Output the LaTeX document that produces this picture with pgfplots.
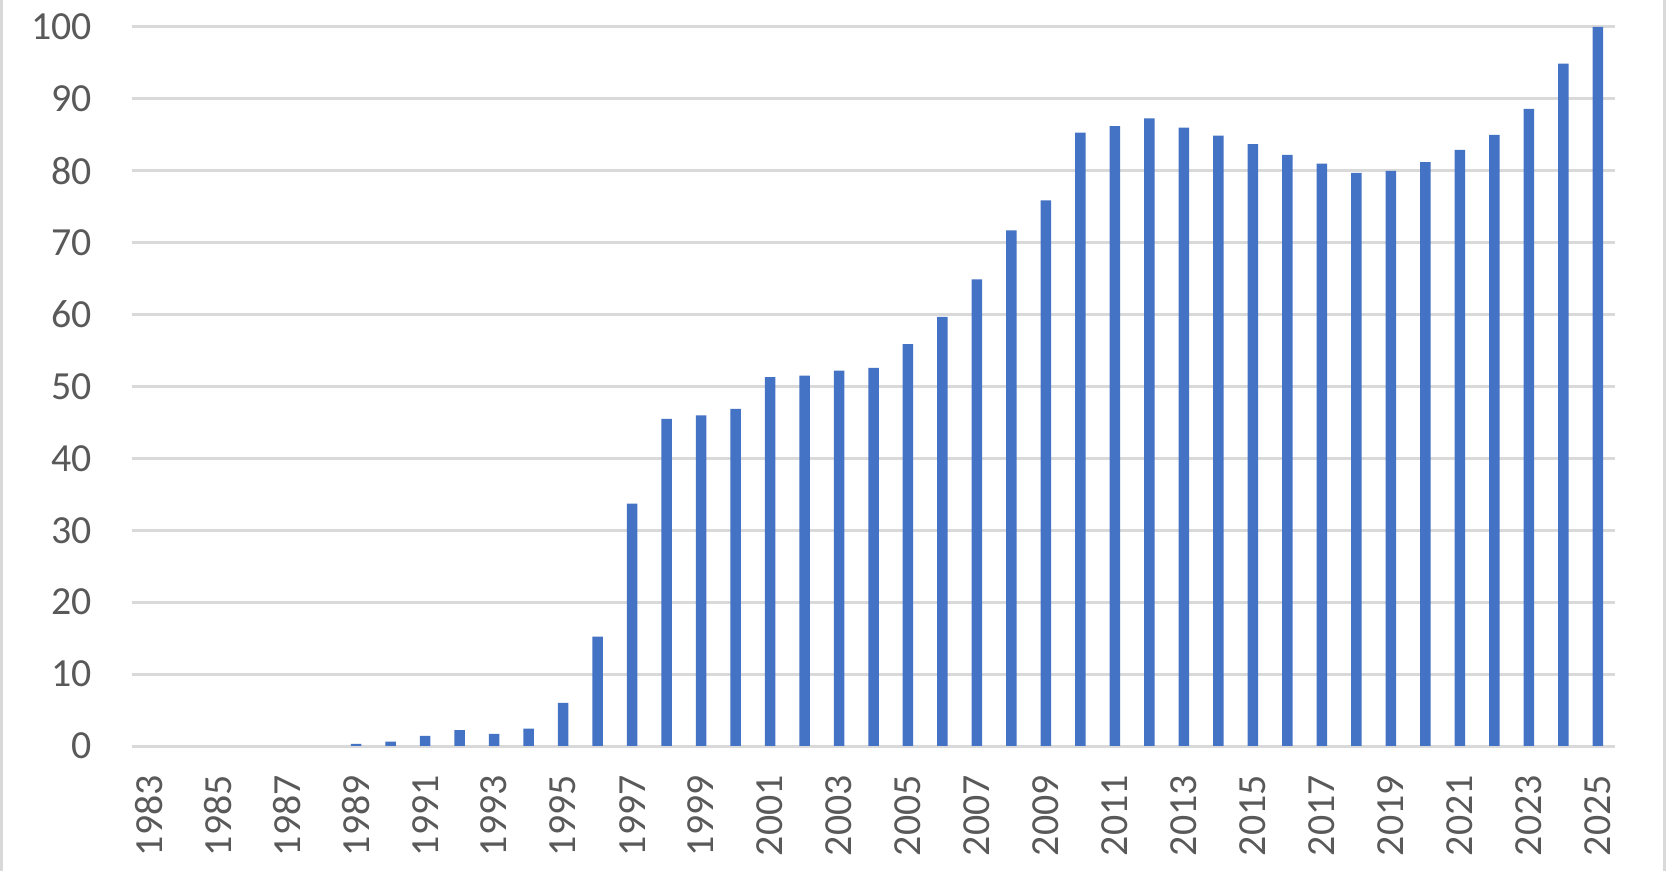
\documentclass[border=0pt]{standalone}
\usepackage{pgfplots}
\pgfplotsset{compat=1.18}
\usepackage{fontspec}
\setmainfont{Carlito}
\definecolor{barblue}{HTML}{4472C4}
\definecolor{gridgray}{HTML}{D9D9D9}
\definecolor{labgray}{HTML}{595959}
\begin{document}
\begin{tikzpicture}
\useasboundingbox (-66bp,-62.5bp) rectangle (767bp,373bp);
\fill[white] (-66bp,-62.5bp) rectangle (767bp,373bp);
\draw[gridgray, line width=1.5bp] (-65.25bp,-62.5bp) -- (-65.25bp,373bp);
\draw[gridgray, line width=1.5bp] (766.25bp,-62.5bp) -- (766.25bp,373bp);
\begin{axis}[
  at={(0,0)}, anchor=south west,
  scale only axis,
  width=741.5bp, height=359.5bp,
  xmin=1982.5, xmax=2025.5,
  ymin=0, ymax=100,
  ytick={0,10,...,100},
  xtick={1983,1985,...,2025},
  ymajorgrids,
  grid style={line width=1.5bp, gridgray},
  axis line style={draw=none},
  tick style={draw=none},
  major tick length=0pt,
  /pgf/number format/assume math mode=true,
  /pgf/number format/1000 sep={},
  tick label style={font=\fontsize{20}{24}\selectfont, text=labgray, inner sep=0pt},
  xticklabel style={rotate=90, anchor=east},
  yticklabel style={anchor=east},
  xticklabel shift={14.5bp},
  yticklabel shift={20bp},
  ybar, bar width=5.25bp,
]
\addplot[fill=barblue, draw=none] coordinates {
(1983,0) (1984,0) (1985,0) (1986,0) (1987,0) (1988,0)
(1989,0.3) (1990,0.6) (1991,1.4) (1992,2.2) (1993,1.7) (1994,2.4)
(1995,6.0) (1996,15.2) (1997,33.7) (1998,45.5) (1999,46.0) (2000,46.9)
(2001,51.3) (2002,51.5) (2003,52.2) (2004,52.6) (2005,55.9) (2006,59.7)
(2007,64.9) (2008,71.7) (2009,75.9) (2010,85.3) (2011,86.2) (2012,87.3)
(2013,86.0) (2014,84.9) (2015,83.7) (2016,82.2) (2017,81.0) (2018,79.7)
(2019,80.0) (2020,81.2) (2021,82.9) (2022,85.0) (2023,88.6) (2024,94.9)
(2025,100)
};
\end{axis}
\end{tikzpicture}
\end{document}
